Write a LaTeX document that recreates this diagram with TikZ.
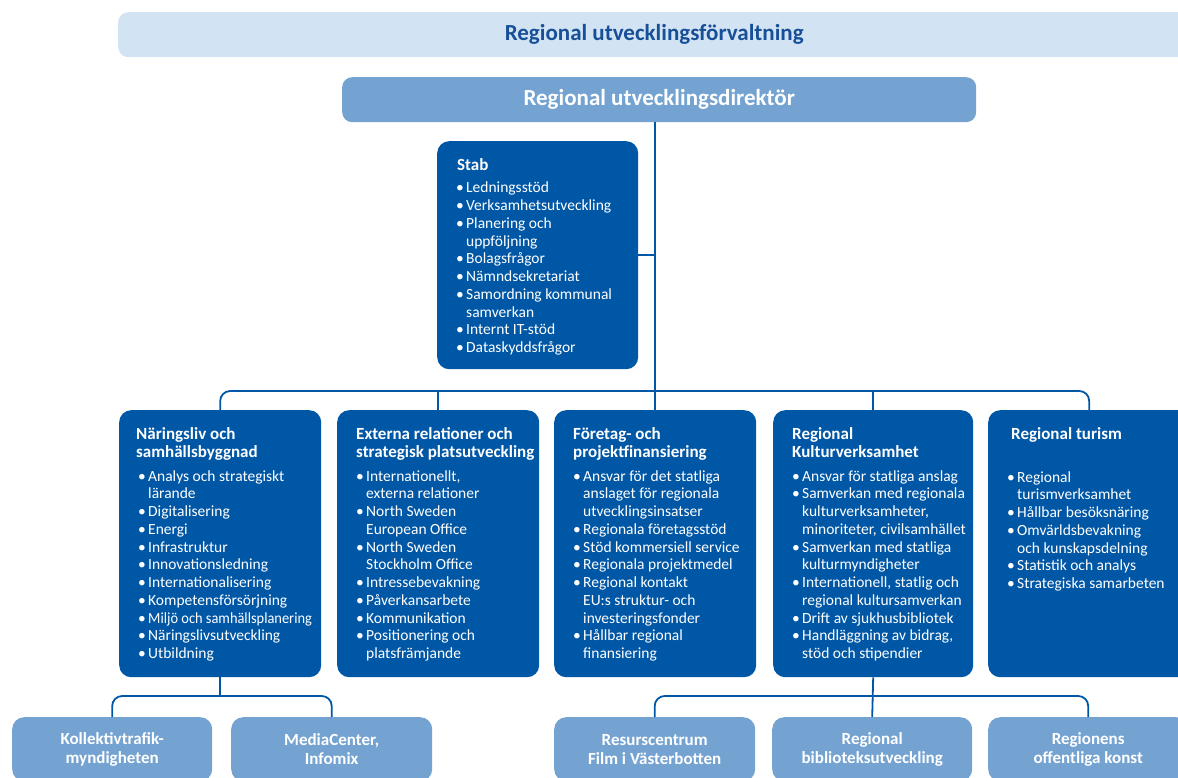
\documentclass[tikz,border=0pt]{standalone}
\usepackage{fontspec}
\setmainfont{Carlito}
\definecolor{dkblue}{HTML}{0057A6}
\definecolor{midblue}{HTML}{74A3D2}
\definecolor{bandblue}{HTML}{D2E3F3}
\definecolor{titleblue}{HTML}{174F98}
\newcommand{\bl}[1]{\makebox[10pt][l]{•}#1}
\newcommand{\ct}[1]{\hspace*{10pt}#1}
\newcommand{\hd}[1]{\parbox[t]{230pt}{\raggedright\fontsize{17}{18}\selectfont\bfseries #1}}
\newcommand{\ls}[1]{\parbox[t]{230pt}{\raggedright\fontsize{15.5}{17.75}\selectfont #1}}
\begin{document}
\begin{tikzpicture}[x=1pt,y=-1pt,
  darkbox/.style={fill=dkblue, draw=none, rounded corners=12pt, anchor=north west, inner sep=0pt, minimum height=267pt},
  lightbox/.style={fill=midblue, draw=none, rounded corners=12pt, anchor=north west, inner sep=0pt, text=white, align=center, font=\fontsize{17}{19}\selectfont\bfseries, minimum height=64pt},
  txt/.style={anchor=base west, inner sep=0pt, text=white},
  conn/.style={draw=dkblue, line width=1.8pt, rounded corners=10pt}]
\useasboundingbox (0,0) rectangle (1178,778);
% top band and director
\node[fill=bandblue, rounded corners=10pt, anchor=north west, minimum width=1072pt, minimum height=45pt, inner sep=0pt, text=titleblue, font=\fontsize{23}{25}\selectfont\bfseries] (band) at (118,12) {Regional utvecklingsförvaltning};
\node[fill=midblue, rounded corners=10pt, anchor=north west, minimum width=634pt, minimum height=45pt, inner sep=0pt, text=white, font=\fontsize{23}{25}\selectfont\bfseries] (dir) at (342,77) {Regional utvecklingsdirektör};
% stab
\node[darkbox, minimum width=201pt, minimum height=228pt] (stab) at (437,141) {};
\node[txt] (stabh) at (457,170.5) {\hd{Stab}};
\node[txt] (stabl) at (456,193) {\ls{\bl{Ledningsstöd}\\\bl{Verksamhetsutveckling}\\\bl{Planering och}\\\ct{uppföljning}\\\bl{Bolagsfrågor}\\\bl{Nämndsekretariat}\\\bl{Samordning kommunal}\\\ct{samverkan}\\\bl{Internt IT-stöd}\\\bl{Dataskyddsfrågor}}};
% main boxes
\node[darkbox, minimum width=202pt] (b1) at (119,410) {};
\node[darkbox, minimum width=202pt] (b2) at (337,410) {};
\node[darkbox, minimum width=202pt] (b3) at (554,410) {};
\node[darkbox, minimum width=200pt] (b4) at (773,410) {};
\node[darkbox, minimum width=202pt] (b5) at (988,410) {};
\node[txt] (b1h) at (136,439) {\hd{Näringsliv och\\samhällsbyggnad}};
\node[txt] (b1l) at (138,481) {\ls{\bl{Analys och strategiskt}\\\ct{lärande}\\\bl{Digitalisering}\\\bl{Energi}\\\bl{Infrastruktur}\\\bl{Innovationsledning}\\\bl{Internationalisering}\\\bl{Kompetensförsörjning}\\\bl{\scalebox{0.93}[1]{Miljö och samhällsplanering}}\\\bl{Näringslivsutveckling}\\\bl{Utbildning}}};
\node[txt] (b2h) at (356,439) {\hd{Externa relationer och\\strategisk platsutveckling}};
\node[txt] (b2l) at (356,481) {\ls{\bl{Internationellt,}\\\ct{externa relationer}\\\bl{North Sweden}\\\ct{European Office}\\\bl{North Sweden}\\\ct{Stockholm Office}\\\bl{Intressebevakning}\\\bl{Påverkansarbete}\\\bl{Kommunikation}\\\bl{Positionering och}\\\ct{platsfrämjande}}};
\node[txt] (b3h) at (573,439) {\hd{Företag- och\\projektfinansiering}};
\node[txt] (b3l) at (573,481) {\ls{\bl{Ansvar för det statliga}\\\ct{anslaget för regionala}\\\ct{utvecklingsinsatser}\\\bl{Regionala företagsstöd}\\\bl{Stöd kommersiell service}\\\bl{Regionala projektmedel}\\\bl{Regional kontakt}\\\ct{EU:s struktur- och}\\\ct{investeringsfonder}\\\bl{Hållbar regional}\\\ct{finansiering}}};
\node[txt] (b4h) at (792,439) {\hd{Regional\\Kulturverksamhet}};
\node[txt] (b4l) at (792,481) {\ls{\bl{Ansvar för statliga anslag}\\\bl{Samverkan med regionala}\\\ct{kulturverksamheter,}\\\ct{minoriteter, civilsamhället}\\\bl{Samverkan med statliga}\\\ct{kulturmyndigheter}\\\bl{Internationell, statlig och}\\\ct{regional kultursamverkan}\\\bl{Drift av sjukhusbibliotek}\\\bl{Handläggning av bidrag,}\\\ct{stöd och stipendier}}};
\node[txt] (b5h) at (1011,439) {\hd{Regional turism}};
\node[txt] (b5l) at (1007,482) {\ls{\bl{Regional}\\\ct{turismverksamhet}\\\bl{Hållbar besöksnäring}\\\bl{Omvärldsbevakning}\\\ct{och kunskapsdelning}\\\bl{Statistik och analys}\\\bl{Strategiska samarbeten}}};
% bottom boxes
\node[lightbox, minimum width=200pt] (k1) at (12,717) {Kollektivtrafik-\\myndigheten};
\node[lightbox, minimum width=201pt] (k2) at (231,717) {MediaCenter,\\Infomix};
\node[lightbox, minimum width=201pt] (r1) at (554,717) {Resurscentrum\\Film i Västerbotten};
\node[lightbox, minimum width=200pt] (r2) at (772,717) {Regional\\biblioteksutveckling};
\node[lightbox, minimum width=200pt] (r3) at (988,717) {Regionens\\offentliga konst};
% connectors
\coordinate (busA) at (0,391);
\coordinate (busB) at (0,696);
\draw[conn] (b3.north) -- (b3.north |- dir.south);
\draw[conn] (stab.east) -- (stab.east -| b3.north);
\draw[conn] (b1.north) -- (b1.north |- busA) -- (b5.north |- busA) -- (b5.north);
\draw[conn] (b2.north) -- (b2.north |- busA);
\draw[conn] (b4.north) -- (b4.north |- busA);
\draw[conn] (b1.south) -- (b1.south |- busB);
\draw[conn] (k1.north) -- (k1.north |- busB) -- (k2.north |- busB) -- (k2.north);
\draw[conn] (b4.south) -- (r2.north);
\draw[conn] (r1.north) -- (r1.north |- busB) -- (r3.north |- busB) -- (r3.north);
\end{tikzpicture}
\end{document}
